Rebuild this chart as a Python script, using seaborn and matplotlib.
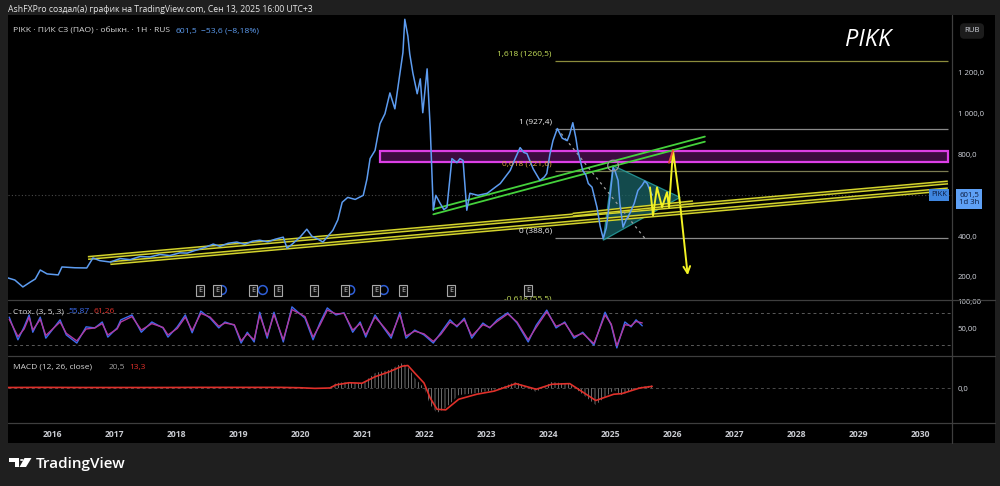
import matplotlib
matplotlib.use("Agg")
import matplotlib.pyplot as plt
import matplotlib.transforms as mtransforms
from matplotlib.patches import Rectangle, Polygon, Circle
import seaborn as sns
import pandas as pd

# ---------------- data ----------------
price_year = [2015.29, 2015.40, 2015.53, 2015.65, 2015.73, 2015.81, 2015.92, 2016.10, 2016.16, 2016.37,
              2016.56, 2016.66, 2016.77, 2016.94, 2017.10, 2017.26, 2017.42, 2017.58, 2017.74, 2017.90,
              2018.06, 2018.18, 2018.31, 2018.47, 2018.60, 2018.71, 2018.84, 2018.98, 2019.11, 2019.23,
              2019.35, 2019.48, 2019.60, 2019.73, 2019.79, 2019.87, 2020.00, 2020.11, 2020.19, 2020.29,
              2020.37, 2020.45, 2020.53, 2020.61, 2020.68, 2020.77, 2020.89, 2021.02, 2021.08, 2021.13,
              2021.21, 2021.29, 2021.37, 2021.45, 2021.53, 2021.61, 2021.66, 2021.69, 2021.74, 2021.77,
              2021.82, 2021.89, 2021.94, 2021.98, 2022.05, 2022.10, 2022.15, 2022.19, 2022.26, 2022.32,
              2022.37, 2022.45, 2022.53, 2022.58, 2022.63, 2022.69, 2022.74, 2022.87, 2023.02, 2023.15,
              2023.23, 2023.31, 2023.39, 2023.47, 2023.55, 2023.61, 2023.66, 2023.76, 2023.87, 2023.94,
              2023.98, 2024.03, 2024.08, 2024.15, 2024.23, 2024.31, 2024.35, 2024.40, 2024.45, 2024.48,
              2024.56, 2024.61, 2024.65, 2024.71, 2024.79, 2024.84, 2024.89, 2024.94, 2024.97, 2025.02,
              2025.05, 2025.08, 2025.13, 2025.16, 2025.21, 2025.26, 2025.32, 2025.39, 2025.45, 2025.52,
              2025.56, 2025.60, 2025.65, 2025.68]
price_close = [195, 185, 151, 175, 190, 234, 215, 210, 249, 245,
               244, 293, 280, 273, 290, 285, 300, 298, 310, 305,
               318, 317, 330, 345, 361, 350, 365, 371, 360, 375,
               380, 372, 385, 395, 341, 360, 395, 434, 400, 385,
               371, 400, 429, 480, 566, 590, 580, 600, 680, 780,
               820, 951, 1000, 1102, 1024, 1195, 1300, 1463, 1380, 1293,
               1200, 1098, 1171, 1005, 1220, 932, 527, 600, 561, 530,
               541, 780, 760, 780, 771, 527, 610, 600, 610, 640,
               658, 690, 722, 780, 834, 810, 805, 730, 673, 690,
               707, 800, 868, 927.4, 880, 868, 900, 956, 880, 820,
               722, 700, 658, 640, 541, 450, 388.6, 440, 512, 650,
               736, 720, 673, 560, 444, 480, 512, 560, 624, 650,
               670, 658, 620, 601.5]

stoch_year = [2015.31, 2015.45, 2015.55, 2015.63, 2015.69, 2015.81, 2015.90, 2016.13, 2016.23, 2016.40,
              2016.55, 2016.69, 2016.81, 2016.90, 2017.05, 2017.11, 2017.29, 2017.44, 2017.61, 2017.79,
              2017.87, 2018.02, 2018.15, 2018.26, 2018.40, 2018.55, 2018.69, 2018.79, 2018.94, 2019.05,
              2019.15, 2019.26, 2019.35, 2019.47, 2019.58, 2019.73, 2019.87, 2020.08, 2020.21, 2020.32,
              2020.44, 2020.58, 2020.71, 2020.85, 2020.97, 2021.06, 2021.21, 2021.35, 2021.47, 2021.61,
              2021.71, 2021.85, 2022.00, 2022.15, 2022.27, 2022.42, 2022.53, 2022.65, 2022.77, 2022.95,
              2023.06, 2023.18, 2023.35, 2023.50, 2023.68, 2023.81, 2023.98, 2024.13, 2024.27, 2024.42,
              2024.56, 2024.74, 2024.92, 2025.02, 2025.11, 2025.24, 2025.34, 2025.42, 2025.52]
stoch_k = [72, 30, 54, 76, 44, 72, 33, 67, 39, 24, 54, 52, 63, 35, 52, 67, 76, 44, 63, 52,
           35, 54, 76, 43, 83, 70, 52, 63, 57, 24, 44, 26, 81, 33, 81, 26, 91, 70, 30, 61,
           89, 76, 80, 44, 63, 35, 76, 52, 33, 81, 33, 48, 39, 24, 43, 67, 54, 70, 33, 61,
           52, 67, 80, 61, 26, 57, 85, 52, 63, 33, 44, 20, 81, 57, 15, 63, 54, 67, 55.87]
stoch_d = [68, 36, 50, 72, 48, 68, 38, 63, 42, 28, 50, 52, 60, 39, 50, 63, 73, 48, 60, 53,
           39, 51, 72, 47, 79, 72, 55, 61, 58, 28, 41, 30, 76, 37, 77, 30, 86, 73, 35, 57,
           85, 78, 79, 48, 60, 39, 72, 54, 37, 77, 37, 46, 41, 27, 40, 63, 56, 67, 37, 58,
           53, 64, 78, 63, 30, 53, 82, 55, 61, 36, 42, 23, 76, 59, 19, 58, 56, 64, 61.26]

macd_year = [2015.29, 2015.81, 2016.45, 2017.10, 2017.74, 2018.39, 2019.03, 2019.68, 2020.00, 2020.24,
             2020.48, 2020.58, 2020.79, 2021.00, 2021.21, 2021.44, 2021.65, 2021.74, 2021.85, 2022.00,
             2022.10, 2022.21, 2022.35, 2022.56, 2022.85, 2023.13, 2023.48, 2023.81, 2024.06, 2024.35,
             2024.77, 2025.06, 2025.19, 2025.48, 2025.68]
macd_val = [4, 6, 3, 5, 4, 6, 4, 5, 0, -6, 2, 40, 48, 32, 120, 144, 200, 168, 80, 0,
            -136, -200, -160, -56, -40, -16, 48, -32, 48, 32, -136, -16, -56, 8, 20.5]
macd_signal = [4, 5, 4, 4, 4, 5, 5, 5, 2, -3, 0, 25, 42, 38, 90, 130, 175, 180, 120, 40,
               -80, -170, -175, -90, -50, -25, 35, -10, 30, 35, -100, -50, -45, 0, 13.3]

year_ticks = list(range(2016, 2031))
price_ticks = [200, 400, 800, 1000, 1200]
price_tick_labels = ["200,0", "400,0", "800,0", "1 000,0", "1 200,0"]

# chart drawings (year, price)
fib_start, fib_end = 2024.11, 2030.45
fib_levels = [1260.5, 927.4, 721.6, 388.6, 55.5]
fib_labels = ["1,618 (1260,5)", "1 (927,4)", "0,618 (721,6)", "0 (388,6)", "-0,618 (55,5)"]
fib_line_colors = ["#8c8c3c", "#8a8a8a", "#7c7c52", "#8a8a8a", "#8c8c3c"]
fib_text_colors = ["#c6e05a", "#f0f0f0", "#e0a43a", "#f0f0f0", "#c6e05a"]
zone_years, zone_prices = [2021.29, 2030.45], [761, 815]
yellow_upper = ([2016.58, 2030.45], [293, 663])
yellow_lower = ([2016.94, 2030.45], [268, 629])
yellow_short = ([2024.40, 2026.34], [505, 566])
green_upper = ([2022.15, 2026.53], [532, 888])
green_lower = ([2022.15, 2026.53], [507, 863])
triangle_years = [2024.89, 2025.05, 2026.13]
triangle_prices = [380, 746, 590]
dotted_years, dotted_prices = [2024.15, 2025.56], [927, 390]
path_years = [2025.645, 2025.694, 2025.758, 2025.839, 2025.919, 2025.952, 2026.016, 2026.129, 2026.258]
path_prices = [639, 502, 639, 542, 615, 542, 820, 561, 195]
earn_years = [2018.39, 2018.66, 2019.24, 2019.65, 2020.23, 2020.73, 2021.23, 2021.66, 2022.44, 2023.68]
div_years = [2018.74, 2019.40, 2020.81, 2021.35]
last_price = 601.5

# ---------------- styling ----------------
OUTER = "#1f1f1f"
BLUE = "#5d9cf0"
sns.set_theme(style="dark", rc={"axes.facecolor": "black", "figure.facecolor": OUTER,
                                 "hatch.linewidth": 0.5, "axes.grid": False})
plt.rcParams['font.family'] = ['Open Sans', 'DejaVu Sans']

W, H = 1000, 486
fig = plt.figure(figsize=(10, 4.86), dpi=100, facecolor=OUTER)


def frame(x0, y0, x1, y1):
    return [x0 / W, 1 - y1 / H, (x1 - x0) / W, (y1 - y0) / H]


fig.add_artist(Rectangle((8 / W, 1 - 443 / H), 987 / W, 428 / H, transform=fig.transFigure,
                         facecolor="black", edgecolor="none", zorder=-5))

ax = fig.add_axes(frame(8, 15, 952, 300))
ax_st = fig.add_axes(frame(8, 300, 952, 356), sharex=ax)
ax_m = fig.add_axes(frame(8, 356, 952, 423), sharex=ax)
for a in (ax, ax_st, ax_m):
    a.set_facecolor("black")
    for s in a.spines.values():
        s.set_visible(False)
    a.yaxis.tick_right()
    a.tick_params(axis="y", length=0, pad=4, labelsize=5.6, labelcolor="#d1d4dc")
    a.tick_params(axis="x", length=0)

# ---------------- price pane ----------------
ax.axhline(last_price, color="#4a4a4a", ls=(0, (1, 2)), lw=0.8, zorder=1)
ax.add_patch(Rectangle((zone_years[0], zone_prices[0]), zone_years[1] - zone_years[0],
                       zone_prices[1] - zone_prices[0], facecolor="#3c0b40", edgecolor="#dc3fe6",
                       lw=1.6, zorder=2))
for lvl, lc in zip(fib_levels, fib_line_colors):
    ax.hlines(lvl, fib_start, fib_end, color=lc, lw=0.9, zorder=2)
for lvl, lab, tc in zip(fib_levels, fib_labels, fib_text_colors):
    t = ax.annotate(lab, xy=(fib_start - 0.05, lvl), xytext=(0, 2.5), textcoords="offset points",
                    ha="right", va="bottom", fontsize=6.0, color=tc, zorder=6, annotation_clip=False)
    t.set_clip_on(True)

for (xs, ys) in (yellow_upper, yellow_lower, yellow_short):
    ax.plot(xs, ys, color="#d4d42c", lw=3.0, solid_capstyle="butt", zorder=3)
    ax.plot(xs, ys, color="#2a2a08", lw=0.9, solid_capstyle="butt", zorder=3)
for (xs, ys) in (green_upper, green_lower):
    ax.plot(xs, ys, color="#45d13c", lw=1.3, zorder=3)

ax.add_patch(Polygon(list(zip(triangle_years, triangle_prices)), closed=True,
                     facecolor="#1a6466", edgecolor="#2ab0b0", lw=0.9, alpha=0.75, zorder=2))
ax.plot(dotted_years, dotted_prices, color="#a0a0a0", ls=(0, (2, 3)), lw=0.9, zorder=3)

price_df = pd.DataFrame({"year": price_year, "price": price_close})
sns.lineplot(data=price_df, x="year", y="price", ax=ax, color=BLUE, lw=1.1, sort=False,
             estimator=None, legend=False, zorder=4)
ax.scatter([triangle_years[1]], [triangle_prices[1]], s=60, facecolors="none",
           edgecolors="#9a9a9a", lw=0.9, zorder=5)

ax.plot(path_years[:-1], path_prices[:-1], color="#f2f224", lw=1.4, zorder=5)
ax.plot(path_years[5:7], [path_prices[6] - 60, path_prices[6]], color="#e84a3a", lw=1.4, zorder=5)
ax.annotate("", xy=(path_years[-1], path_prices[-1]), xytext=(path_years[-2], path_prices[-2]),
            arrowprops=dict(arrowstyle="->", color="#f2f224", lw=1.4, mutation_scale=12), zorder=5)

blend = mtransforms.blended_transform_factory(ax.transData, ax.transAxes)
ax.scatter(div_years, [0.035] * len(div_years), transform=blend, s=40, facecolors="none",
           edgecolors="#2f5fd8", lw=1.1, zorder=5)
for ey in earn_years:
    ax.text(ey, 0.035, "E", transform=blend, fontsize=5.2, color="#c8c8c8", ha="center",
            va="center", zorder=6,
            bbox=dict(boxstyle="square,pad=0.28", facecolor="#101010", edgecolor="#a8a8a8", lw=0.8))

ax.set_yticks(price_ticks)
ax.set_yticklabels(price_tick_labels)
ax.tick_params(axis="x", labelbottom=False)

# ---------------- stochastic pane ----------------
for lvl in (80, 20):
    ax_st.axhline(lvl, color="#5a5a5a", ls=(0, (3, 3)), lw=0.7)
sns.lineplot(x=stoch_year, y=stoch_k, ax=ax_st, color="#3b6cf0", lw=1.0, estimator=None, legend=False)
sns.lineplot(x=stoch_year, y=stoch_d, ax=ax_st, color="#b03aa0", lw=1.0, estimator=None, legend=False)
ax_st.set_yticks([50, 100])
ax_st.set_yticklabels(["50,00", "100,00"])
ax_st.tick_params(axis="x", labelbottom=False)

# ---------------- MACD pane ----------------
ax_m.axhline(0, color="#4a4a4a", ls=(0, (3, 3)), lw=0.7)
ax_m.fill_between(macd_year, 0, macd_val, facecolor="none", edgecolor="#9a9a9a", hatch="|||||", lw=0)
sns.lineplot(x=macd_year, y=macd_signal, ax=ax_m, color="#e0302a", lw=1.2, estimator=None, legend=False)
ax_m.set_yticks([0])
ax_m.set_yticklabels(["0,0"])
ax_m.set_xticks(year_ticks)
ax_m.set_xticklabels([str(y) for y in year_ticks])
ax_m.tick_params(axis="x", labelbottom=True, pad=5, labelsize=6.2, labelcolor="#c8cad0")
for lab in ax_m.get_xticklabels():
    lab.set_fontweight("bold")

for a in (ax, ax_st, ax_m):
    a.set_xlabel("")
    a.set_ylabel("")
ax.set_xlim(2015.29, 2030.516)
ax.set_ylim(87, 1484)
ax_st.set_ylim(0, 103.7)
ax_m.set_ylim(-280, 256)

# ---------------- separators ----------------
for yy in (300, 356, 423):
    fig.add_artist(plt.Line2D([8 / W, 995 / W], [1 - yy / H] * 2, color="#3e3e3e", lw=0.9,
                              transform=fig.transFigure))
fig.add_artist(plt.Line2D([952 / W] * 2, [1 - 15 / H, 1 - 443 / H], color="#3e3e3e", lw=0.9,
                          transform=fig.transFigure))


# ---------------- texts ----------------
def chain(host, x, y, parts, fs):
    t = host.text(x / W, 1 - y / H, parts[0][0], color=parts[0][1], fontsize=fs, ha="left",
                  va="center", transform=fig.transFigure, zorder=10)
    for s, c, gap in parts[1:]:
        t = host.annotate(s, xy=(1, 0.5), xycoords=t, xytext=(gap, 0), textcoords="offset points",
                          ha="left", va="center", color=c, fontsize=fs, annotation_clip=False, zorder=10)
    return t


fig.text(8 / W, 1 - 10 / H, "AshFXPro создал(а) график на TradingView.com, Сен 13, 2025 16:00 UTC+3",
         color="#e8e8e8", fontsize=6.2, ha="left", va="center")
chain(ax, 13, 31, [("PIKK · ПИК СЗ (ПАО) · обыкн. · 1Н · RUS", "#d8d8d8"),
                   ("601,5", "#5d9cf0", 4), ("−53,6 (−8,18%)", "#5d9cf0", 3)], 6.1)
chain(ax_st, 13, 312, [("Стох. (3, 5, 3)", "#d8d8d8"), ("55,87", "#3b6cf0", 3),
                       ("61,26", "#e0302a", 3)], 6.0)
chain(ax_m, 13, 367, [("MACD (12, 26, close)", "#d8d8d8"), ("20,5", "#a0a0a0", 12),
                      ("13,3", "#e0302a", 3)], 6.0)

fig.text(868 / W, 1 - 40 / H, "PIKK", color="white", fontsize=17, style="italic", ha="center", va="center")
fig.text(972 / W, 1 - 31 / H, "RUB", color="#d1d4dc", fontsize=5.6, ha="center", va="center",
         bbox=dict(boxstyle="round,pad=0.55", facecolor="#1c1c1c", edgecolor="none"))
fig.text(939 / W, 1 - 195 / H, "PIKK", color="#0c1c40", fontsize=5.4, ha="center", va="center",
         bbox=dict(boxstyle="square,pad=0.3", facecolor="#3f86e0", edgecolor="none"))
fig.text(969 / W, 1 - 199 / H, "601,5\n1d 3h", color="#0c1c40", fontsize=5.6, ha="center", va="center",
         linespacing=1.2, bbox=dict(boxstyle="square,pad=0.3", facecolor="#5ea0f5", edgecolor="none"))

# TradingView logo
logo_T = [(9, 458), (19, 458), (19, 467), (14.5, 467), (14.5, 462), (9, 462)]
logo_bar = [(24.5, 458), (31.5, 458), (26, 467), (19.5, 467)]
for poly in (logo_T, logo_bar):
    fig.add_artist(Polygon([(px / W, 1 - py / H) for px, py in poly], closed=True,
                           transform=fig.transFigure, facecolor="white", edgecolor="none"))
fig.add_artist(Circle((21.8 / W, 1 - 460 / H), 1.8 / W, transform=fig.transFigure,
                      facecolor="white", edgecolor="none"))
fig.text(36 / W, 1 - 464 / H, "TradingView", color="white", fontsize=11, fontweight="semibold",
         ha="left", va="center")

fig.savefig("out.png", dpi=100, facecolor=OUTER)
